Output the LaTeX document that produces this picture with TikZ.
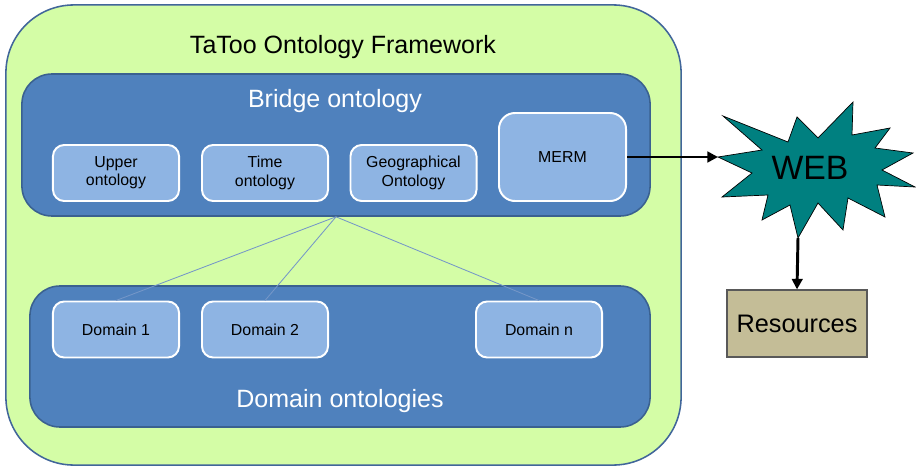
\documentclass[tikz,border=0pt]{standalone}
\usepackage{fontspec}
\setmainfont{Liberation Sans}
\usetikzlibrary{arrows.meta}
\definecolor{fwgreen}{HTML}{D4FDA6}
\definecolor{fwborder}{HTML}{41669A}
\definecolor{ontblue}{HTML}{4F81BD}
\definecolor{ontborder}{HTML}{3A6190}
\definecolor{subblue}{HTML}{8EB4E3}
\definecolor{linkblue}{HTML}{7597C8}
\definecolor{webteal}{HTML}{008080}
\definecolor{restan}{HTML}{C4BD97}
\tikzset{every node/.style={inner sep=0pt, align=center}}
\tikzset{sub/.style={rectangle, rounded corners=0.28cm, draw=white, line width=1.4pt, fill=subblue,
    minimum width=3.15cm, minimum height=1.4cm, font=\fontsize{11.3}{13}\selectfont}}
\tikzset{layer/.style={rectangle, rounded corners=0.75cm, draw=ontborder, line width=1.1pt, fill=ontblue}}
\tikzset{big/.style={font=\fontsize{17.8}{20}\selectfont}}
\tikzset{link/.style={draw=linkblue, line width=0.6pt}}
\tikzset{thickarrow/.style={line width=2.1pt, -{Triangle[length=7.5pt,width=7.5pt]}}}

\begin{document}
\begin{tikzpicture}[x=0.025cm, y=-0.025cm]
      \useasboundingbox (0,0) rectangle (916,467);
      \node (fw)[rectangle, rounded corners=1.7cm, draw=fwborder, line width=1.1pt, fill=fwgreen,
        minimum width=16.875cm, minimum height=11.5cm] at (343.5,235) {};
      \node (fwtitle)[big] at (343,47) {TaToo Ontology Framework};

      \node (bridge)[layer, minimum width=15.7cm, minimum height=3.55cm] at (336,145) {};
      \node (bridgetitle)[big, text=white] at (335,101) {Bridge ontology};
      \node (upper)[sub] at (116,173) {Upper\\ontology};
      \node (time)[sub] at (265,173) {Time\\ontology};
      \node (geo)[sub] at (413.5,173) {Geographical\\Ontology};
      \node (merm)[sub, rounded corners=0.4cm, minimum width=3.175cm, minimum height=2.2cm] at (562.5,157) {MERM};

      \node (domain)[layer, minimum width=15.5cm, minimum height=3.525cm] at (340,356.5) {};
      \node (domaintitle)[big, text=white] at (340,401) {Domain ontologies};
      \node (d1)[sub] at (116,329.5) {Domain 1};
      \node (d2)[sub] at (265,329.5) {Domain 2};
      \node (dn)[sub] at (539,329.5) {Domain n};

      \foreach \d in {d1,d2,dn}
        \draw[link] (bridge.south) -- (\d.north);

      % the WEB star
      \draw[fill=webteal, line width=0.5pt] (718,157) -- (762,150) -- (723,116) -- (788,142) -- (797,117)
        -- (818,138) -- (853,102) -- (852,135) -- (890,128) -- (875,148) -- (913,153) -- (882,170)
        -- (915,187) -- (877,185) -- (885,217) -- (848,198) -- (843,230) -- (818,203) -- (798,238)
        -- (790,205) -- (762,220) -- (768,195) -- (722,197) -- (752,173) -- cycle;
      \coordinate (webl) at (718,157);
      \coordinate (webb) at (798,238);
      \node (web)[font=\fontsize{24}{27}\selectfont] at (810,168) {WEB};

      \node (res)[rectangle, draw=black!65, line width=0.8pt, fill=restan,
        minimum width=3.5cm, minimum height=1.675cm, font=\fontsize{18}{20}\selectfont] at (797,323.5) {Resources};

      \draw[thickarrow] (merm.east) -- (webl);
      \draw[thickarrow] (webb) -- (res.north);
    \end{tikzpicture}
\end{document}
